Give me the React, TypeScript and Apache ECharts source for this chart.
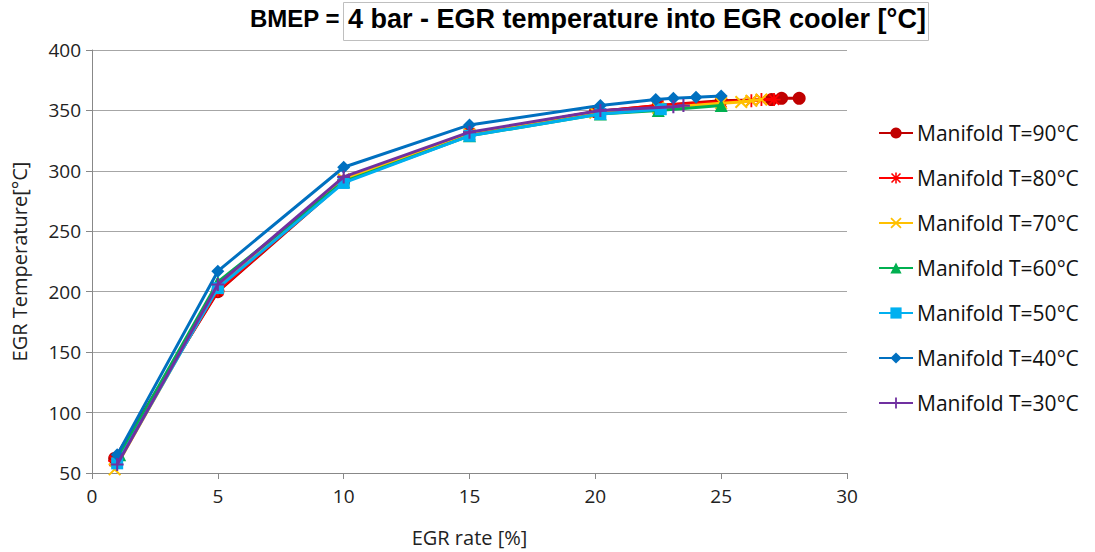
import React, { useEffect, useRef } from "react";
import * as echarts from "echarts";

const seriesNames = [
  "Manifold T=90°C",
  "Manifold T=80°C",
  "Manifold T=70°C",
  "Manifold T=60°C",
  "Manifold T=50°C",
  "Manifold T=40°C",
  "Manifold T=30°C",
];

const x90 = [0.9, 5, 10, 15, 20, 22.5, 25, 27, 27.4, 28.1];
const y90 = [62, 200, 291, 331, 349, 354, 358, 359, 360, 360];
const x80 = [0.9, 5, 10, 15, 20, 22.5, 25, 26.2, 26.6, 27.1];
const y80 = [60, 201, 292, 331, 349, 354, 357, 358, 359, 359];
const x70 = [0.9, 5, 10, 15, 20, 22.5, 25, 25.8, 26.2, 26.6];
const y70 = [53, 204, 293, 330, 348, 352, 356, 357, 358, 359];
const x60 = [1.1, 5, 10, 15, 20.2, 22.5, 25];
const y60 = [65, 208, 291, 329, 347, 350, 354];
const x50 = [1, 5, 10, 15, 20.2, 22.6];
const y50 = [58, 203, 290, 329, 347, 351];
const x40 = [1, 5, 10, 15, 20.2, 22.4, 23.1, 24, 25];
const y40 = [65, 217, 303, 338, 354, 359, 360, 361, 362];
const x30 = [1, 5, 10, 15, 20.2, 23.1, 23.5];
const y30 = [57, 206, 295, 332, 350, 353, 354];

const xTicks = [0, 5, 10, 15, 20, 25, 30];
const yTicks = [50, 100, 150, 200, 250, 300, 350, 400];

const colors = ["#C00000", "#FF0000", "#FFC000", "#00B050", "#00B0F0", "#0070C0", "#7030A0"];

const PLUS = "path://M4.2,0h1.6v10h-1.6z M0,4.2h10v1.6h-10z";
const CROSS = "path://M0,1.1L1.1,0L10,8.9L8.9,10z M8.9,0L10,1.1L1.1,10L0,8.9z";
const STAR =
  "path://M4.3,0h1.4v10h-1.4z M0,4.3h10v1.4h-10z M0.5,1.5L1.5,0.5L9.5,8.5L8.5,9.5z M8.5,0.5L9.5,1.5L1.5,9.5L0.5,8.5z";

const symbols = ["circle", STAR, CROSS, "triangle", "rect", "diamond", PLUS];
const symbolSizes = [13, 13, 13, 13, 12, 13, 13];

const xs = [x90, x80, x70, x60, x50, x40, x30];
const ys = [y90, y80, y70, y60, y50, y40, y30];

export default function App() {
  const ref = useRef<HTMLDivElement>(null);
  useEffect(() => {
    document.body.style.margin = "0";
    const chart = echarts.init(ref.current!, undefined, { renderer: "svg" });
    const font = "'Open Sans', 'Noto Sans', sans-serif";
    chart.setOption({
      animation: false,
      backgroundColor: "#ffffff",
      textStyle: { fontFamily: font },
      grid: { left: 92, right: 248, top: 50, bottom: 77, containLabel: false },
      xAxis: {
        type: "value",
        min: xTicks[0],
        max: xTicks[xTicks.length - 1],
        interval: 5,
        name: "EGR rate [%]",
        nameLocation: "middle",
        nameGap: 54,
        nameTextStyle: { fontSize: 20, color: "#222", fontFamily: font },
        axisLine: { show: true, lineStyle: { color: "#888", width: 1 } },
        axisTick: { show: true, inside: false, length: 6, lineStyle: { color: "#888" } },
        axisLabel: { fontSize: 19, color: "#222", margin: 13, fontFamily: font },
        splitLine: { show: false },
      },
      yAxis: {
        type: "value",
        min: yTicks[0],
        max: yTicks[yTicks.length - 1],
        interval: 50,
        name: "EGR Temperature[°C]",
        nameLocation: "middle",
        nameGap: 63,
        nameTextStyle: { fontSize: 20, color: "#222", fontFamily: font },
        axisLine: { show: true, lineStyle: { color: "#888", width: 1 } },
        axisTick: { show: true, inside: false, length: 6, lineStyle: { color: "#888" } },
        axisLabel: { fontSize: 19, color: "#222", margin: 11, fontFamily: font },
        splitLine: { show: true, lineStyle: { color: "#a6a6a6", width: 1 } },
      },
      legend: {
        orient: "vertical",
        left: 873,
        top: 116,
        itemWidth: 34,
        itemHeight: 14,
        itemGap: 21,
        textStyle: { fontSize: 21, color: "#111", lineHeight: 24, fontFamily: font, padding: [0, 0, 0, -1] },
        data: seriesNames,
      },
      series: seriesNames.map((name, i) => ({
        name,
        type: "line",
        data: xs[i].map((x, j) => [x, ys[i][j]]),
        symbol: symbols[i],
        symbolSize: symbolSizes[i],
        showSymbol: true,
        lineStyle: { color: colors[i], width: 3 },
        itemStyle: { color: colors[i] },
        z: 2 + i,
      })),
      graphic: [
        {
          type: "text",
          left: 250,
          top: 6,
          style: {
            text: "BMEP =",
            font: "bold 24px 'Liberation Sans Narrow', 'Liberation Sans', sans-serif",
            fill: "#000",
          },
        },
        {
          type: "rect",
          shape: { x: 343.5, y: 2.5, width: 585, height: 38 },
          style: { fill: "#fff", stroke: "#bfbfbf", lineWidth: 1 },
        },
        {
          type: "text",
          left: 348,
          top: 5,
          style: {
            text: "4 bar - EGR temperature into EGR cooler [°C]",
            font: "bold 27px 'Liberation Sans Narrow', 'Liberation Sans', sans-serif",
            fill: "#000",
          },
        },
      ],
    });
    return () => chart.dispose();
  }, []);
  return <div ref={ref} style={{ width: 1095, height: 552 }} />;
}
